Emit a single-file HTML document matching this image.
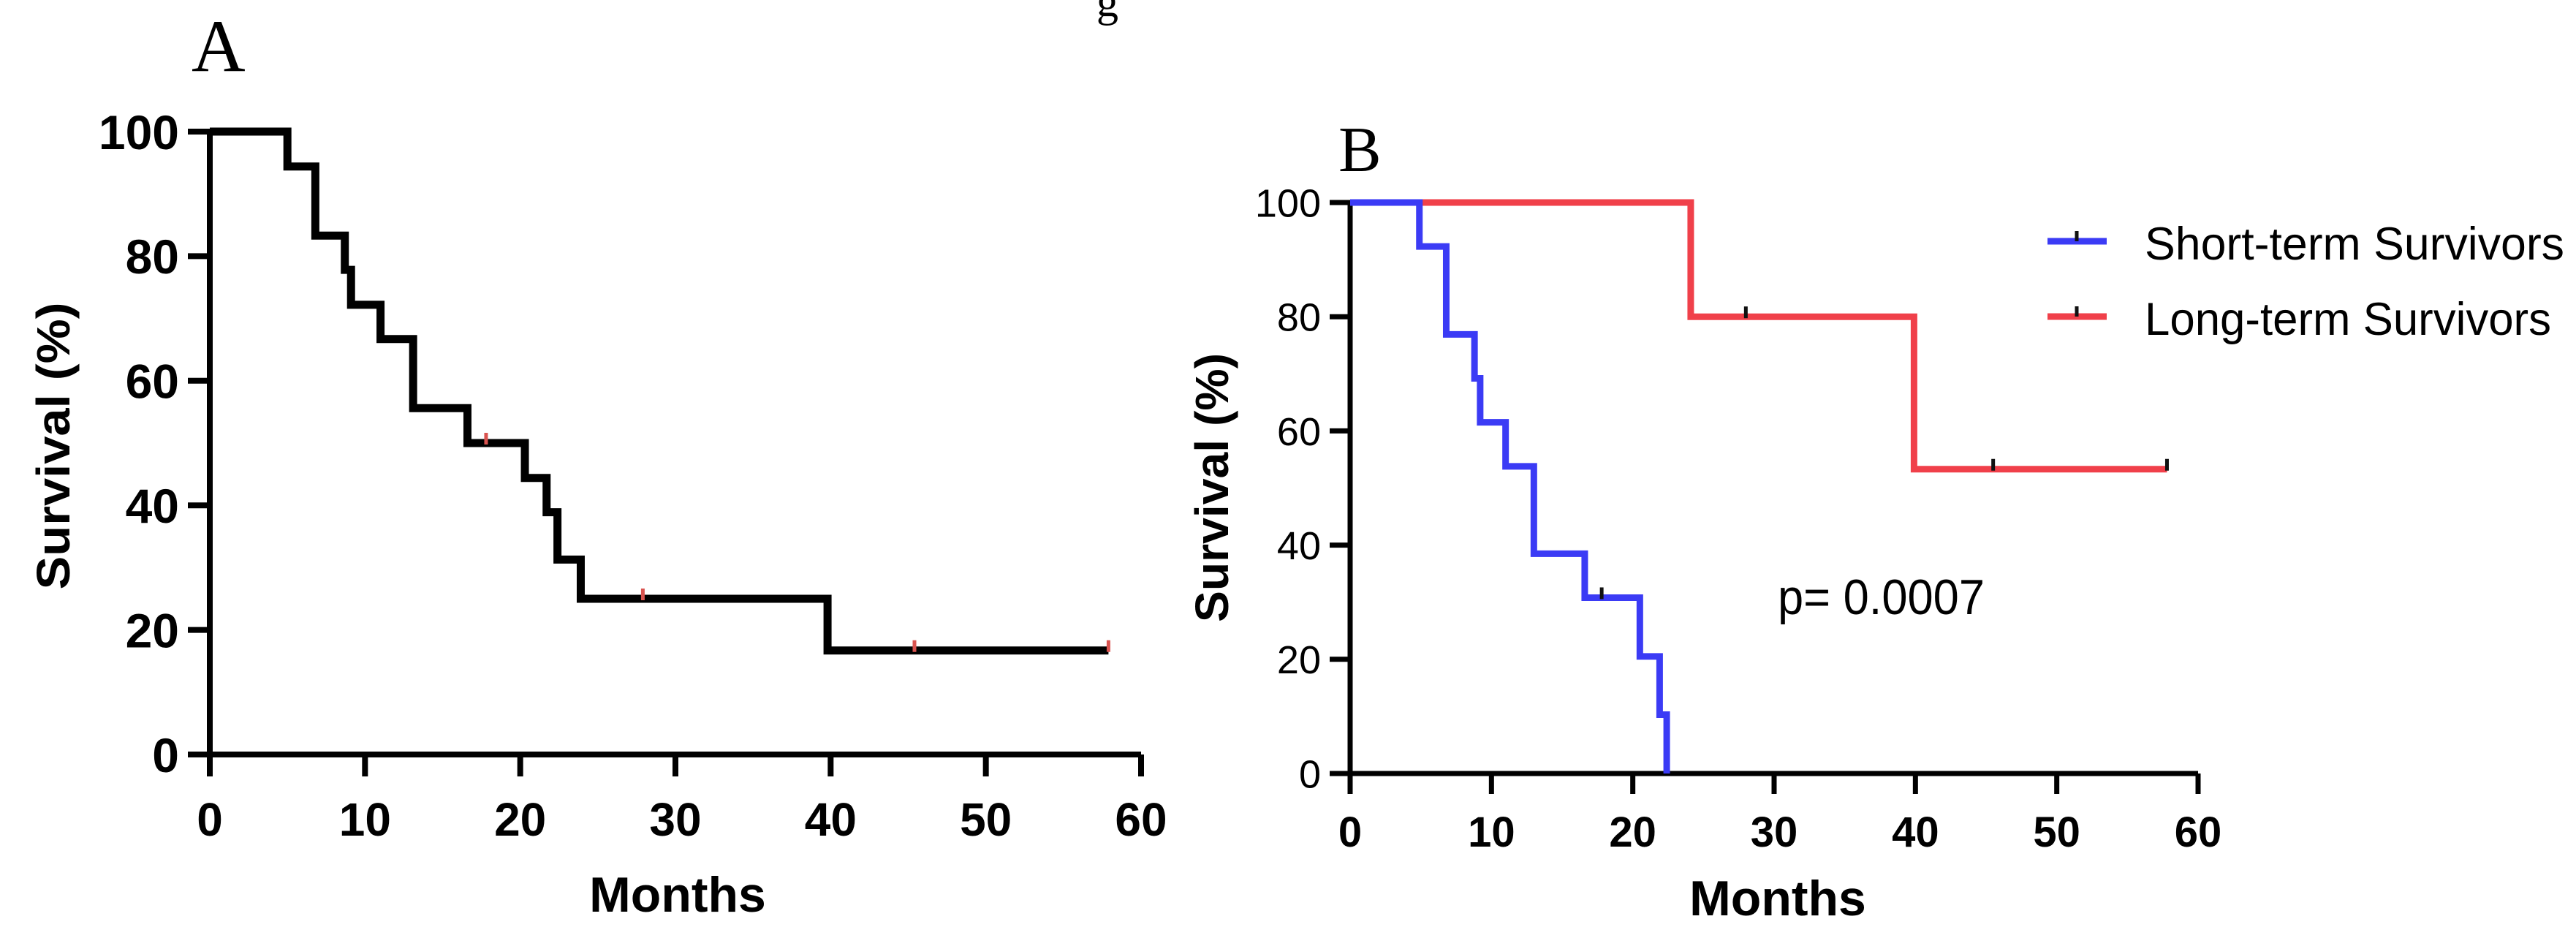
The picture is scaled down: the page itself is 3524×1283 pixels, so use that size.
<!DOCTYPE html>
<html><head><meta charset="utf-8"><style>
html,body{margin:0;padding:0;background:#fff;}
svg{display:block;}
text{font-family:"Liberation Sans",sans-serif;}
</style></head><body>
<svg id="fig" width="3524" height="1283" viewBox="0 0 3524 1283" xmlns="http://www.w3.org/2000/svg">
<rect width="3524" height="1283" fill="#fff"/>
<text x="262" y="97" style="font-family:'Liberation Serif',serif" font-size="102">A</text>
<text x="1831" y="234" style="font-family:'Liberation Serif',serif" font-size="88">B</text>
<text x="1500" y="22" style="font-family:'Liberation Serif',serif" font-size="60">g</text>
<g id="A"></g>
<g id="B"></g>
</svg>
<script>
// Panel A data
const aTimes = [0, 5.0, 6.8, 8.7, 9.1, 11.0, 13.1, 16.6, 20.3, 21.7, 22.4, 23.9, 39.8, 57.9];
const aSurv  = [100, 94.4, 83.3, 77.8, 72.2, 66.7, 55.6, 50, 44.4, 38.9, 31.3, 25, 16.7, 16.7];
const aCensorT = [17.8, 27.9, 45.4, 57.9];
// Panel B data
const shortTimes = [0, 4.9, 6.8, 8.8, 9.2, 11.0, 13.0, 16.6, 20.5, 21.9, 22.4];
const shortSurv  = [100, 92.3, 76.9, 69.2, 61.5, 53.8, 38.5, 30.8, 20.5, 10.3, 0];
const shortCensorT = [17.8];
const longTimes = [0, 24.1, 39.9, 57.8];
const longSurv  = [100, 80, 53.3, 53.3];
const longCensorT = [28.0, 45.5, 57.8];
const xTicks = [0, 10, 20, 30, 40, 50, 60];
const yTicks = [0, 20, 40, 60, 80, 100];
const legendLabels = ["Short-term Survivors", "Long-term Survivors"];

const NS = "http://www.w3.org/2000/svg";
function mk(parent, tag, attrs, txt){
  const e = document.createElementNS(NS, tag);
  for (const k in attrs) e.setAttribute(k, attrs[k]);
  if (txt !== undefined) e.textContent = txt;
  parent.appendChild(e); return e;
}
function stepPath(ts, ss, sx, sy){
  let d = "M" + sx(ts[0]) + "," + sy(ss[0]);
  for (let i = 1; i < ts.length; i++){
    d += " H" + sx(ts[i]) + " V" + sy(ss[i]);
  }
  return d;
}
function survAt(ts, ss, t){
  let v = ss[0];
  for (let i = 0; i < ts.length; i++) if (ts[i] <= t) v = ss[i];
  return v;
}
function drawAxes(g, sx, sy, o){
  const x0 = sx(0), y0 = sy(0);
  const ax = mk(g, "path", {d: "M" + x0 + "," + sy(100) + " V" + y0 + " H" + sx(60), fill: "none", stroke: "#000", "stroke-width": o.aw});
  
  
  yTicks.forEach(v => {
    const t = mk(g, "line", {x1: x0 - o.tl, x2: x0, y1: sy(v), y2: sy(v), stroke: "#000", "stroke-width": o.aw});
    
    
    const l = mk(g, "text", {x: x0 - o.tl - 12, y: sy(v) + o.yfs * 0.36, "font-size": o.yfs, "font-weight": o.yw, "text-anchor": "end"}, String(v));
    
    
  });
  xTicks.forEach(v => {
    const t = mk(g, "line", {x1: sx(v), x2: sx(v), y1: y0, y2: y0 + o.tl, stroke: "#000", "stroke-width": o.aw});
    
    
    const l = mk(g, "text", {x: sx(v), y: o.xly, "font-size": o.xfs, "font-weight": "bold", "text-anchor": "middle"}, String(v));
    
    
  });
  const xt = mk(g, "text", {x: o.xtx, y: o.xty, "font-size": 68, "font-weight": "bold", "text-anchor": "middle"}, "Months");
  
  
  const yt = mk(g, "text", {x: 0, y: 0, "font-size": 64, "font-weight": "bold", "text-anchor": "middle", transform: "translate(" + o.ytx + "," + o.yty + ") rotate(-90)", textLength: o.ytl, lengthAdjust: "spacingAndGlyphs"}, "Survival (%)");
  
  
}
function drawCurve(g, ts, ss, cts, sx, sy, color, w, name, cColor){
  const p = mk(g, "path", {d: stepPath(ts, ss, sx, sy), fill: "none", stroke: color, "stroke-width": w, "stroke-linejoin": "miter"});
  
  
  cts.forEach(t => {
    const y = sy(survAt(ts, ss, t));
    const c = mk(g, "line", {x1: sx(t), x2: sx(t), y1: y - 14, y2: y + 2, stroke: cColor, "stroke-width": 5});
    
    
  });
}

// Panel A
const gA = document.getElementById("A");
const axA = t => 287 + t * (1561 - 287) / 60;
const ayA = s => 1032 - s * (1032 - 180) / 100;
drawAxes(gA, axA, ayA, {aw: 8, tl: 30, yfs: 66, yw: "bold", xfs: 64, xly: 1143, xtx: 927, xty: 1247, ytx: 95, yty: 610, ytl: 393});
drawCurve(gA, aTimes, aSurv, aCensorT, axA, ayA, "#000", 11, "overall-survival-curve", "#d9534f");

// Panel B
const gB = document.getElementById("B");
const axB = t => 1847 + t * (3007 - 1847) / 60;
const ayB = s => 1058 - s * (1058 - 277) / 100;
drawAxes(gB, axB, ayB, {aw: 7, tl: 28, yfs: 54, yw: "normal", xfs: 58, xly: 1158, xtx: 2432, xty: 1252, ytx: 1680, yty: 667, ytl: 368});
drawCurve(gB, longTimes, longSurv, longCensorT, axB, ayB, "#f0404a", 9, "long-term-curve", "#111");
drawCurve(gB, shortTimes, shortSurv, shortCensorT, axB, ayB, "#3b3bf5", 9, "short-term-curve", "#111");

// legend
const colors = ["#3b3bf5", "#f0404a"];
const legY = [330, 433];
const legBase = [355, 458];
legendLabels.forEach((lab, i) => {
  const g = mk(gB, "g", {});
  
  
  mk(g, "line", {x1: 2801, x2: 2882, y1: legY[i], y2: legY[i], stroke: colors[i], "stroke-width": 9});
  mk(g, "line", {x1: 2841, x2: 2841, y1: legY[i] - 14, y2: legY[i], stroke: "#111", "stroke-width": 5});
  mk(g, "text", {x: 2934, y: legBase[i], "font-size": 63, textLength: i === 0 ? 574 : 556, lengthAdjust: "spacingAndGlyphs"}, lab);
});
const pv = mk(gB, "text", {x: 2432, y: 840, "font-size": 68, textLength: 283, lengthAdjust: "spacingAndGlyphs"}, "p= 0.0007");


</script>
</body></html>
